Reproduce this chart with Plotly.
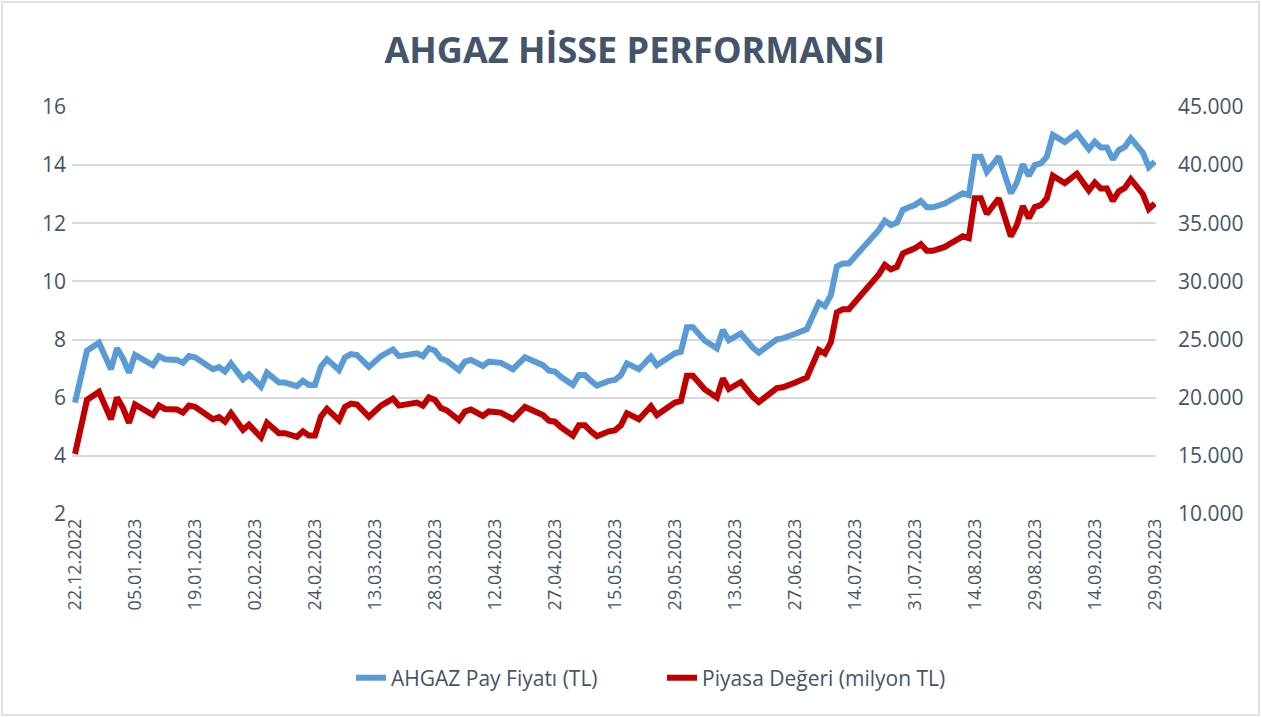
import plotly.graph_objects as go

# Trading-day index (0 = 22.12.2022, 180 = 29.09.2023)
trading_day = [0, 2, 4, 6, 7, 8, 9, 10, 13, 14, 15, 17, 18, 19, 20, 23, 24, 25, 26, 28,
               29, 31, 32, 34, 35, 37, 38, 39, 40, 41, 42, 44, 45, 46, 47, 49, 51, 53, 54, 57,
               58, 59, 60, 61, 62, 64, 65, 66, 68, 69, 71, 73, 75, 77, 78, 79, 80, 81, 83, 84,
               85, 86, 87, 89, 90, 91, 92, 94, 96, 97, 99, 100, 101, 102, 103, 105, 107, 108, 109, 111,
               113, 114, 117, 118, 120, 121, 122, 124, 125, 126, 127, 128, 129, 131, 132, 133, 134, 135, 136, 137,
               138, 139, 140, 141, 142, 143, 144, 145, 146, 147, 148, 149, 150, 151, 152, 154, 156, 157, 158, 159,
               160, 161, 162, 163, 165, 167, 169, 170, 171, 172, 173, 174, 175, 176, 178, 179, 180]

# AHGAZ share price (TL)
price = [5.83, 7.62, 7.89, 6.98, 7.70, 7.35, 6.86, 7.47, 7.12, 7.43, 7.32, 7.30, 7.20, 7.43, 7.39, 6.98, 7.05, 6.90, 7.18, 6.63,
         6.80, 6.38, 6.86, 6.52, 6.52, 6.40, 6.58, 6.44, 6.44, 7.07, 7.32, 6.95, 7.39, 7.50, 7.47, 7.06, 7.43, 7.66, 7.43, 7.53,
         7.43, 7.70, 7.62, 7.35, 7.27, 6.95, 7.24, 7.30, 7.09, 7.24, 7.20, 6.98, 7.39, 7.24, 7.12, 6.93, 6.90, 6.72, 6.44, 6.78,
         6.78, 6.58, 6.42, 6.58, 6.61, 6.78, 7.18, 6.98, 7.41, 7.12, 7.43, 7.53, 7.58, 8.42, 8.42, 7.96, 7.70, 8.33, 7.98, 8.21,
         7.72, 7.55, 8.01, 8.04, 8.19, 8.27, 8.36, 9.27, 9.15, 9.53, 10.51, 10.62, 10.62, 11.08, 11.30, 11.55, 11.77, 12.09, 11.94, 12.02,
         12.46, 12.55, 12.63, 12.77, 12.55, 12.55, 12.60, 12.68, 12.80, 12.94, 13.03, 12.97, 14.29, 14.29, 13.77, 14.29, 13.03, 13.40, 14.03, 13.63,
         14.00, 14.06, 14.29, 15.04, 14.79, 15.10, 14.55, 14.81, 14.61, 14.61, 14.20, 14.52, 14.63, 14.92, 14.43, 13.93, 14.12]

# Market value (million TL)
market_cap = [15160, 19810, 20510, 18150, 20020, 19110, 17840, 19420, 18510, 19320, 19030, 18980, 18720, 19320, 19210, 18150, 18330, 17940, 18670, 17240,
              17680, 16590, 17840, 16950, 16950, 16640, 17110, 16740, 16740, 18380, 19030, 18070, 19210, 19500, 19420, 18360, 19320, 19920, 19320, 19580,
              19320, 20020, 19810, 19110, 18900, 18070, 18820, 18980, 18430, 18820, 18720, 18150, 19210, 18820, 18510, 18020, 17940, 17470, 16740, 17630,
              17630, 17110, 16690, 17110, 17190, 17630, 18670, 18150, 19270, 18510, 19320, 19580, 19710, 21890, 21890, 20700, 20020, 21660, 20750, 21350,
              20070, 19630, 20830, 20900, 21290, 21500, 21740, 24100, 23790, 24780, 27330, 27610, 27610, 28810, 29380, 30030, 30600, 31430, 31040, 31250,
              32400, 32630, 32840, 33200, 32630, 32630, 32760, 32970, 33280, 33640, 33880, 33720, 37150, 37150, 35800, 37150, 33880, 34840, 36480, 35440,
              36400, 36560, 37150, 39100, 38450, 39260, 37830, 38510, 37990, 37990, 36920, 37750, 38040, 38790, 37520, 36220, 36710]

tick_day = [0, 10, 20, 30, 40, 50, 60, 70, 80, 90, 100, 110, 120, 130, 140, 150, 160, 170, 180]
tick_labels = ["22.12.2022", "05.01.2023", "19.01.2023", "02.02.2023", "24.02.2023", "13.03.2023",
               "28.03.2023", "12.04.2023", "27.04.2023", "15.05.2023", "29.05.2023", "13.06.2023",
               "27.06.2023", "14.07.2023", "31.07.2023", "14.08.2023", "29.08.2023", "14.09.2023",
               "29.09.2023"]

TXT = "#44546A"
FONT = "Open Sans"

fig = go.Figure()
fig.add_trace(go.Scatter(x=trading_day, y=price, mode="lines", name="AHGAZ Pay Fiyatı (TL)",
                         line=dict(color="#5B9BD5", width=6), yaxis="y"))
fig.add_trace(go.Scatter(x=trading_day, y=market_cap, mode="lines", name="Piyasa Değeri (milyon TL)",
                         line=dict(color="#C00000", width=6), yaxis="y2"))

ML, MR, MT, MB = 72, 106, 107, 203
W, H = 1262, 717
PW, PH = W - ML - MR, H - MT - MB

fig.update_layout(
    width=W, height=H,
    margin=dict(l=ML, r=MR, t=MT, b=MB),
    paper_bgcolor="white", plot_bgcolor="white",
    separators=",.",
    font=dict(family=FONT, color=TXT, size=16),
    title=dict(text="<b>AHGAZ HİSSE PERFORMANSI</b>", x=0.503, xref="container", xanchor="center",
               y=1 - 50 / H, yref="container", yanchor="middle",
               font=dict(family=FONT, size=36, color=TXT)),
    xaxis=dict(range=[-0.5, 180.2], tickmode="array", tickvals=tick_day, ticktext=tick_labels,
               tickangle=-90, showgrid=False, zeroline=False, showline=False, ticks="",
               tickfont=dict(size=18, color=TXT, family=FONT)),
    yaxis=dict(range=[2, 16], tick0=2, dtick=2, showgrid=True, gridcolor="#D9D9D9", gridwidth=1.5,
               zeroline=False, showline=False, ticks="", ticklabelstandoff=5,
               tickfont=dict(size=21, color=TXT, family=FONT)),
    yaxis2=dict(range=[10000, 45000], tick0=10000, dtick=5000, overlaying="y", side="right",
                showgrid=False, zeroline=False, showline=False, ticks="", tickformat=",d",
                ticklabelstandoff=21, tickfont=dict(size=21, color=TXT, family=FONT)),
    legend=dict(orientation="h", x=(351 - ML) / PW, xanchor="left", y=(514 - 678) / PH, yanchor="middle",
                font=dict(size=21, color=TXT, family=FONT), entrywidth=266, entrywidthmode="pixels",
                tracegroupgap=0, bgcolor="rgba(0,0,0,0)"),
    showlegend=True,
)

# chart-area border
fig.add_shape(type="rect", xref="paper", yref="paper",
              x0=(2 - ML) / PW, x1=(W - 3 - ML) / PW,
              y0=(514 - (H - 2)) / PH, y1=(514 - 2) / PH,
              line=dict(color="#D9D9D9", width=1.5), fillcolor="rgba(0,0,0,0)", layer="below")

fig.write_html("out.html", config={"displayModeBar": False},
               post_script="document.body.style.margin='0';document.body.style.overflow='hidden';")
